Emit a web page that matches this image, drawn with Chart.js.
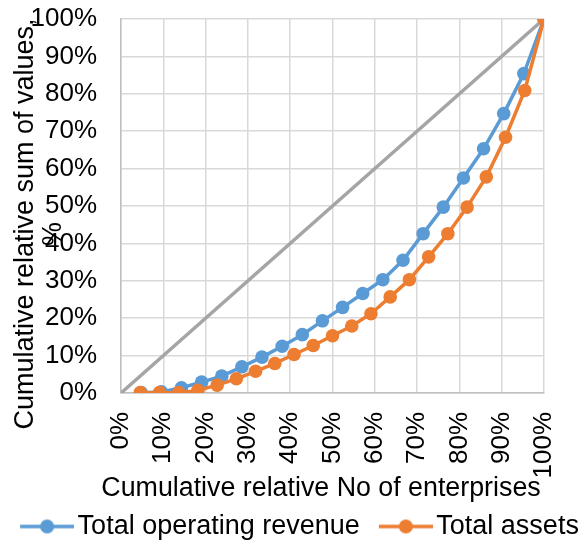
<!DOCTYPE html>
<html>
<head>
<meta charset="utf-8">
<script src="https://cdn.jsdelivr.net/npm/chart.js@4/dist/chart.umd.min.js"></script>
<style>
  html, body { margin: 0; padding: 0; background: #fff; }
  #wrap { width: 584px; height: 546px; }
</style>
</head>
<body>
<div id="wrap"><canvas id="c" width="584" height="546"></canvas></div>
<script>
// Cumulative share of enterprises (%), one point per group
const revenueShareX = [4.76, 9.52, 14.29, 19.05, 23.81, 28.57, 33.33, 38.10, 42.86, 47.62, 52.38,
                       57.14, 61.90, 66.67, 71.43, 76.19, 80.95, 85.71, 90.48, 95.24, 100];
const revenueShareY = [0.1, 0.3, 1.4, 2.9, 4.5, 7.0, 9.6, 12.5, 15.6, 19.3, 22.9,
                       26.6, 30.3, 35.5, 42.6, 49.7, 57.5, 65.3, 74.7, 85.4, 100];
const assetsShareX = [4.55, 9.09, 13.64, 18.18, 22.73, 27.27, 31.82, 36.36, 40.91, 45.45, 50.00,
                      54.55, 59.09, 63.64, 68.18, 72.73, 77.27, 81.82, 86.36, 90.91, 95.45, 100];
const assetsShareY = [0.1, 0.1, 0.1, 0.7, 2.1, 3.8, 5.8, 7.9, 10.3, 12.7, 15.3,
                      17.9, 21.2, 25.7, 30.3, 36.4, 42.6, 49.7, 57.8, 68.4, 80.9, 100];
// Line of perfect equality
const equalityX = [0, 100];
const equalityY = [0, 100];

const seriesNames = ['Total operating revenue', 'Total assets'];
const xTitle = 'Cumulative relative No of enterprises';
const yTitleLines = ['Cumulative relative sum of values,', '%'];

const BLUE = '#5b9bd5', ORANGE = '#ed7d31', GREY = '#a5a5a5';
const FONT = '"Liberation Sans", Arial, sans-serif';
const FS = 26;

const pts = (xs, ys) => xs.map((x, i) => ({ x, y: ys[i] }));

// Legend symbol: short line with a dot in the middle, sitting at the
// right end of a wider transparent canvas so it hugs the label text
const GLYPH_BOX = 59;
function legendGlyph(color) {
  const cv = document.createElement('canvas');
  cv.width = GLYPH_BOX + 20; cv.height = 16;
  const g = cv.getContext('2d');
  const x0 = cv.width - 54;
  g.strokeStyle = color; g.lineWidth = 3.5;
  g.beginPath(); g.moveTo(x0, 8); g.lineTo(cv.width, 8); g.stroke();
  g.fillStyle = color;
  g.beginPath(); g.arc(x0 + 27, 8, 7, 0, Math.PI * 2); g.fill();
  return cv;
}
const glyphs = [legendGlyph(BLUE), legendGlyph(ORANGE)];

// Axis titles: rotated two-line y title drawn over the tick label column,
// and the x title centred under the whole figure
const titlesPlugin = {
  id: 'axisTitles',
  afterDraw(chart) {
    const ctx = chart.ctx;
    ctx.save();
    ctx.fillStyle = '#000';
    ctx.textAlign = 'center';
    ctx.textBaseline = 'middle';
    ctx.font = '27px ' + FONT;
    const pos = [[26, 224], [54, 234]];
    yTitleLines.forEach((t, i) => {
      ctx.save();
      ctx.translate(pos[i][0], pos[i][1]);
      ctx.rotate(-Math.PI / 2);
      ctx.fillText(t, 0, 0);
      ctx.restore();
    });
    ctx.font = '26.8px ' + FONT;
    ctx.fillText(xTitle, 321, 489);
    ctx.restore();
  }
};

new Chart(document.getElementById('c'), {
  type: 'line',
  data: {
    datasets: [
      {
        label: seriesNames[0], data: pts(revenueShareX, revenueShareY),
        borderColor: BLUE, backgroundColor: BLUE, borderWidth: 3.5,
        pointRadius: 6.8, pointHoverRadius: 6.8, pointBorderWidth: 0,
        tension: 0, order: 2
      },
      {
        label: seriesNames[1], data: pts(assetsShareX, assetsShareY),
        borderColor: ORANGE, backgroundColor: ORANGE, borderWidth: 3.5,
        pointRadius: 6.8, pointHoverRadius: 6.8, pointBorderWidth: 0,
        tension: 0, order: 1
      },
      {
        label: 'equality', data: pts(equalityX, equalityY),
        borderColor: GREY, borderWidth: 3.5, pointRadius: 0,
        tension: 0, order: 3
      }
    ]
  },
  options: {
    responsive: false,
    animation: false,
    events: [],
    layout: { padding: { top: 19, right: 0, bottom: -4, left: 0 } },
    scales: {
      x: {
        type: 'linear', min: 0, max: 100,
        grid: { color: '#d9d9d9', lineWidth: 1.5, drawTicks: false },
        border: { color: '#bfbfbf', width: 1.5 },
        ticks: {
          stepSize: 10, maxRotation: 90, minRotation: 90, padding: 19, autoSkip: false,
          color: '#000', font: { family: FONT, size: FS },
          callback: v => v + '%'
        },
        afterFit(s) { s.height = 116; s.paddingLeft = 0; s.paddingRight = 40; }
      },
      y: {
        min: 0, max: 100,
        grid: { color: '#d9d9d9', lineWidth: 1.5, drawTicks: false },
        border: { color: '#bfbfbf', width: 1.5 },
        ticks: {
          stepSize: 10, padding: 24, autoSkip: false,
          color: '#000', font: { family: FONT, size: FS },
          callback: v => v + '%'
        },
        afterFit(s) { s.width = 121; s.paddingTop = 0; s.paddingBottom = 0; }
      }
    },
    plugins: {
      legend: {
        position: 'bottom',
        labels: {
          color: '#000', font: { family: FONT, size: 27 },
          usePointStyle: true, pointStyleWidth: GLYPH_BOX, padding: 4,
          generateLabels(chart) {
            return seriesNames.map((name, i) => ({
              text: name, datasetIndex: i, pointStyle: glyphs[i],
              fillStyle: i ? ORANGE : BLUE, strokeStyle: i ? ORANGE : BLUE,
              lineWidth: 0, hidden: false, fontColor: '#000'
            }));
          }
        }
      },
      tooltip: { enabled: false }
    }
  },
  plugins: [titlesPlugin]
});
</script>
</body>
</html>
